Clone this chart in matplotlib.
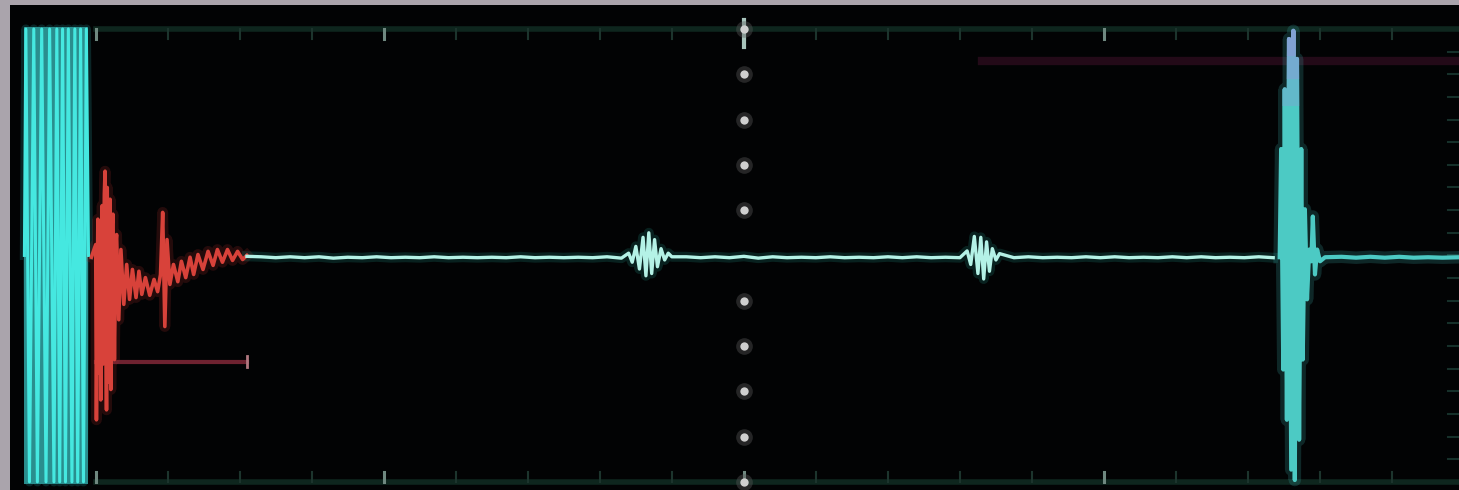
"""A-scan trace from the flaw detector screen: main bang, near-surface
ringing inside gate A, two small indications and the back-wall echo.

x is in screen divisions (0 = left edge of the graticule),
y is in vertical divisions (0 = trace baseline, +/-5 = screen limits).
"""
import matplotlib.pyplot as plt
from matplotlib.patches import Rectangle

# --- main bang (transmitter pulse, saturated) ---
MB_T = [-0.99, -0.97, -0.92, -0.86, -0.81, -0.75, -0.69, -0.64, -0.58, -0.54, -0.50,
        -0.46, -0.42, -0.38, -0.33, -0.29, -0.25, -0.21, -0.17, -0.13, -0.10]
MB_A = [0.0, 5.0, -5.0, 5.0, -5.0, 5.0, -5.0, 5.0, -5.0, 5.0, -5.0,
        5.0, -5.0, 5.0, -5.0, 5.0, -5.0, 5.0, -5.0, 5.0, 0.0]

# --- near-surface ringing inside gate A (red) ---
NS_T = [-0.06, 0.00, 0.01, 0.03, 0.04, 0.06, 0.07, 0.09, 0.10, 0.12, 0.13, 0.15, 0.16,
        0.18, 0.20, 0.21, 0.23, 0.24, 0.26, 0.28, 0.29, 0.32, 0.35, 0.39, 0.43, 0.47,
        0.51, 0.56, 0.60, 0.64, 0.69, 0.75, 0.81, 0.86, 0.90, 0.93, 0.96, 0.99, 1.03,
        1.08, 1.14, 1.19, 1.25, 1.31, 1.36, 1.42, 1.49, 1.56, 1.63, 1.69, 1.76, 1.83,
        1.90, 1.97, 2.04, 2.10]
NS_A = [-0.04, 0.24, -3.63, 0.80, -2.60, 0.58, -3.19, 1.10, -2.40, 1.35, 1.86, -3.41, 1.50,
        -2.80, 1.24, -2.96, 0.70, 0.91, -2.30, 0.30, 0.46, -1.42, 0.13, -1.08, -0.20, -0.97,
        -0.31, -0.93, -0.35, -0.86, -0.49, -0.88, -0.53, -0.80, -0.42, 0.95, -1.57, 0.35, -0.64,
        -0.20, -0.58, -0.13, -0.49, -0.04, -0.42, 0.02, -0.31, 0.09, -0.22, 0.13, -0.15, 0.13,
        -0.11, 0.09, -0.09, 0.00]

# --- baseline with the two small indications ---
BASE_T = [2.10, 2.30, 2.50, 2.70, 2.90, 3.10, 3.30, 3.50, 3.70, 3.90, 4.10, 4.30, 4.50,
          4.70, 4.90, 5.10, 5.30, 5.50, 5.70, 5.90, 6.10, 6.30, 6.50, 6.70, 6.90, 7.10,
          7.30,
          # indication 1
          7.40, 7.45, 7.50, 7.55, 7.60, 7.64, 7.68, 7.72, 7.76, 7.80, 7.85, 7.90, 7.95, 8.00,
          8.20, 8.40, 8.60, 8.80, 9.00, 9.20, 9.40, 9.60, 9.80, 10.00, 10.20, 10.40, 10.60,
          10.80, 11.00, 11.20, 11.40, 11.60, 11.80, 12.00,
          # indication 2
          12.10, 12.15, 12.20, 12.25, 12.29, 12.33, 12.37, 12.41, 12.45, 12.50, 12.55,
          12.75, 12.95, 13.15, 13.35, 13.55, 13.75, 13.95, 14.15, 14.35, 14.55, 14.75,
          14.95, 15.15, 15.35, 15.55, 15.75, 15.95, 16.15, 16.35]
BASE_A = [-0.02, -0.03, -0.05, -0.03, -0.05, -0.03, -0.06, -0.04, -0.05, -0.03, -0.05, -0.04, -0.05,
          -0.03, -0.05, -0.04, -0.05, -0.04, -0.05, -0.03, -0.05, -0.04, -0.05, -0.04, -0.05, -0.03,
          -0.06,
          0.05, -0.15, 0.20, -0.30, 0.40, -0.45, 0.50, -0.40, 0.35, -0.25, 0.15, -0.10, 0.05, -0.03,
          -0.03, -0.05, -0.03, -0.05, -0.02, -0.06, -0.03, -0.05, -0.04, -0.05, -0.03, -0.05, -0.04,
          -0.05, -0.03, -0.05, -0.03, -0.05, -0.04, -0.05,
          0.10, -0.20, 0.42, -0.40, 0.40, -0.52, 0.30, -0.35, 0.15, -0.10, 0.04,
          -0.05, -0.03, -0.05, -0.04, -0.05, -0.03, -0.05, -0.03, -0.05, -0.04, -0.05,
          -0.03, -0.05, -0.03, -0.05, -0.04, -0.05, -0.03, -0.05]

# --- back-wall echo and the tail after it ---
BW_T = [16.44, 16.46, 16.49, 16.51, 16.54, 16.57, 16.60, 16.63, 16.65, 16.68, 16.71, 16.74,
        16.76, 16.79, 16.82, 16.85, 16.88, 16.90, 16.93, 16.96, 17.00, 17.07,
        17.30, 17.50, 17.70, 17.90, 18.10, 18.30, 18.50, 18.70, 18.95]
BW_A = [-0.04, 2.35, -2.52, 3.67, -3.63, 4.78, -4.73, 4.96, -4.96, 4.34, -4.07, 2.35,
        -2.30, 1.02, -0.97, 0.13, -0.13, 0.86, -0.42, 0.13, -0.13, -0.04,
        -0.03, -0.05, -0.03, -0.05, -0.03, -0.05, -0.04, -0.05, -0.04]

# --- gates ---
GATE_A = (0.01, 2.10, -2.35)   # start, end, threshold
GATE_B = (12.30, 19.00, 4.29)

N_DIV_X = 19
DIV_Y = [-5, -4, -3, -2, -1, 1, 2, 3, 4, 5]
CENTER_X = 9

CYAN = "#45e8e0"
CYAN_LIGHT = "#b4f2e6"
RED = "#d8423a"

plt.rcParams.update({"figure.dpi": 100, "savefig.dpi": 100})
fig = plt.figure(figsize=(14.59, 4.90), facecolor="#aaa4ac")
ax = fig.add_axes([10 / 1459, 0, 1449 / 1459, 485 / 490])
ax.set_facecolor("#020304")
ax.set_xlim(-1.19, 18.93)
ax.set_ylim(-5.18, 5.53)
ax.set_xticks([]); ax.set_yticks([])
for s in ax.spines.values():
    s.set_visible(False)


def trace(x, y, color, lw, halo=None, z=3):
    """Phosphor-style line: soft halo underneath, sharp core on top."""
    if halo:
        ax.plot(x, y, color=halo, lw=lw * 3, alpha=0.22, solid_joinstyle="round", zorder=z)
    return ax.plot(x, y, color=color, lw=lw, solid_joinstyle="round", zorder=z + 0.1)[0]


# graticule: top/bottom rails, division ticks, centre dotted line
for yy in (5.0, -5.0):
    ax.plot([0, 18.93], [yy, yy], color="#0e261e", lw=4, zorder=1)
for k in range(N_DIV_X + 1):
    bright = k in (0, 4, 9, 14)
    c = "#6f8880" if bright else "#1c342d"
    ax.plot([k, k], [5.0, 4.78], color=c, lw=2.2 if bright else 1.5, zorder=1.5)
    ax.plot([k, k], [-5.0, -4.78], color=c, lw=2.2 if bright else 1.5, zorder=1.5)
ax.plot([CENTER_X, CENTER_X], [5.2, 4.6], color="#a8c4bc", lw=3, zorder=1.6)
ax.plot([CENTER_X] * len(DIV_Y), DIV_Y, "o", ms=12, color="#5a5a5a", alpha=0.4, mec="none", zorder=1.6)
ax.plot([CENTER_X] * len(DIV_Y), DIV_Y, "o", ms=6, color="#cfcfcf", mec="none", zorder=1.7)
# right-hand scale ticks
for yy in [v / 2 for v in range(-9, 10)]:
    ax.plot([18.78, 18.93], [yy, yy], color="#16302a", lw=1.5, zorder=1.5)

# gates
ax.plot(GATE_A[:2], [GATE_A[2]] * 2, color="#6e2230", lw=3, zorder=2)
ax.plot([GATE_A[1]] * 2, [GATE_A[2] - 0.12, GATE_A[2] + 0.12], color="#b07880", lw=2, zorder=2)
ax.plot(GATE_B[:2], [GATE_B[2]] * 2, color="#230a18", lw=6, zorder=2)

# main bang: saturated block with brighter pulse lines on top
ax.fill_between(MB_T, -5.05, 5.05, color="#39b8b8", alpha=0.75, lw=0, zorder=2.5)
trace(MB_T, MB_A, CYAN, 2.2, halo="#2aa0a0")

# near-surface ringing
trace(NS_T, NS_A, RED, 2.6, halo="#a02828")

# baseline + indications
trace(BASE_T, BASE_A, CYAN_LIGHT, 2.4, halo="#1f8f80")

# back-wall echo, the saturated tip fades to a bluish tint
trace(BW_T, BW_A, "#4ccac4", 3.0, halo="#3aa8a8")
for y0, a in ((3.3, 0.35), (3.9, 0.45), (4.4, 0.55)):
    tip = ax.plot(BW_T, BW_A, color="#8c9cd8", lw=3.0, alpha=a, zorder=3.2)[0]
    tip.set_clip_path(Rectangle((16.3, y0), 1.0, 2.2, transform=ax.transData))

fig.savefig("out.png", facecolor=fig.get_facecolor())
